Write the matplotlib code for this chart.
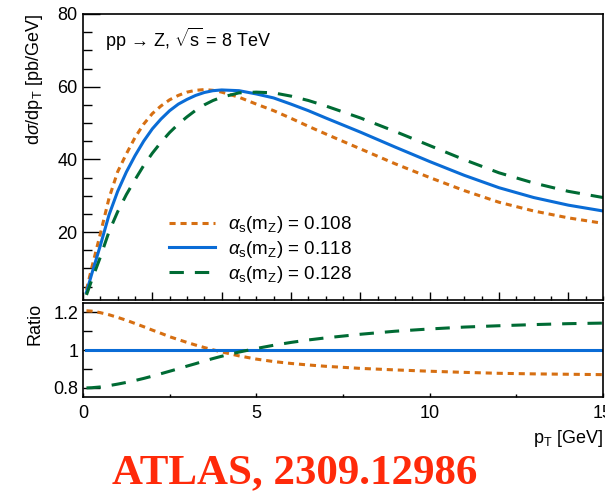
import matplotlib
matplotlib.use("Agg")
import matplotlib.pyplot as plt
from matplotlib.ticker import MultipleLocator, FixedLocator

plt.rcParams["font.family"] = ["Liberation Sans", "DejaVu Sans"]
plt.rcParams["mathtext.fontset"] = "custom"
plt.rcParams["mathtext.rm"] = "Liberation Sans"
plt.rcParams["mathtext.it"] = "Liberation Sans:italic"
plt.rcParams["mathtext.sf"] = "Liberation Sans"

# ---------- DATA ----------
pt = [0.1, 0.25, 0.5, 0.75, 1.0, 1.25, 1.5, 1.75, 2.0, 2.25, 2.5, 2.75, 3.0, 3.25,
      3.5, 3.75, 4.0, 4.5, 5.0, 5.5, 6.0, 6.5, 7.0, 8.0, 9.0, 10.0, 11.0, 12.0,
      13.0, 14.0, 15.0]

xs_108 = [4.1, 10.1, 19.5, 29.3, 36.6, 41.5, 46.0, 49.7, 52.6, 54.7, 56.4, 57.6, 58.5, 59.0,
          59.2, 59.0, 58.5, 57.1, 55.2, 53.4, 51.3, 49.1, 47.0, 42.9, 38.8, 35.0, 31.4, 28.2,
          25.8, 23.9, 22.4]
xs_118 = [3.4, 8.4, 16.3, 24.7, 31.2, 36.5, 41.0, 45.0, 48.4, 51.1, 53.4, 55.2, 56.5, 57.6,
          58.4, 58.9, 59.1, 58.9, 58.0, 56.9, 55.2, 53.4, 51.4, 47.5, 43.4, 39.4, 35.6, 32.2,
          29.5, 27.4, 25.8]
xs_128 = [2.7, 6.7, 13.1, 20.1, 25.6, 30.3, 34.4, 38.3, 41.7, 44.7, 47.4, 49.7, 51.7, 53.5,
          55.0, 56.2, 57.1, 58.3, 58.5, 58.3, 57.4, 56.2, 54.7, 51.4, 47.7, 43.8, 39.9, 36.3,
          33.5, 31.2, 29.5]

ratio_108 = [1.207, 1.205, 1.197, 1.186, 1.172, 1.157, 1.140, 1.123, 1.105, 1.088, 1.070,
             1.055, 1.040, 1.026, 1.013, 1.001, 0.990, 0.969, 0.952, 0.939, 0.929, 0.921,
             0.914, 0.903, 0.895, 0.888, 0.882, 0.877, 0.874, 0.872, 0.870]
ratio_118 = [1.0, 1.0, 1.0, 1.0, 1.0, 1.0, 1.0, 1.0, 1.0, 1.0, 1.0, 1.0, 1.0, 1.0, 1.0, 1.0,
             1.0, 1.0, 1.0, 1.0, 1.0, 1.0, 1.0, 1.0, 1.0, 1.0, 1.0, 1.0, 1.0, 1.0, 1.0]
ratio_128 = [0.800, 0.801, 0.805, 0.812, 0.820, 0.829, 0.839, 0.850, 0.862, 0.875, 0.888,
             0.901, 0.915, 0.928, 0.942, 0.955, 0.967, 0.989, 1.008, 1.025, 1.040, 1.053,
             1.064, 1.083, 1.099, 1.111, 1.121, 1.128, 1.134, 1.139, 1.142]

labels = [r"$\alpha_{\mathrm{s}}(\mathrm{m}_{\mathrm{Z}})$ = 0.108",
          r"$\alpha_{\mathrm{s}}(\mathrm{m}_{\mathrm{Z}})$ = 0.118",
          r"$\alpha_{\mathrm{s}}(\mathrm{m}_{\mathrm{Z}})$ = 0.128"]

ORANGE, BLUE, GREEN = "#d66f12", "#0a6cd6", "#006b34"
LW = 2.2
styles = [dict(color=ORANGE, lw=LW, dashes=(2.0, 1.6)),
          dict(color=BLUE, lw=LW),
          dict(color=GREEN, lw=LW, dashes=(4.7, 3.6))]

# ---------- FIGURE ----------
fig = plt.figure(figsize=(6.05, 4.94), dpi=100)
ax = fig.add_axes([83 / 605, 194 / 494, 520 / 605, 286 / 494])
rax = fig.add_axes([83 / 605, 97 / 494, 520 / 605, 94 / 494])

for ys, st, lab in zip([xs_108, xs_118, xs_128], styles, labels):
    ax.plot(pt, ys, label=lab, dash_capstyle="butt", **st)

ax.set_xlim(0, 15)
ax.set_ylim(1.3, 80)
ax.yaxis.set_major_locator(FixedLocator([20, 40, 60, 80]))
ax.yaxis.set_minor_locator(MultipleLocator(5))
ax.xaxis.set_major_locator(MultipleLocator(2))
ax.xaxis.set_minor_locator(MultipleLocator(0.5))
ax.tick_params(axis="both", which="both", direction="in", labelsize=13)
ax.tick_params(axis="y", which="major", length=12, width=1)
ax.tick_params(axis="y", which="minor", length=6.5, width=1)
ax.tick_params(axis="x", which="major", length=5.5, width=1, labelbottom=False)
ax.tick_params(axis="x", which="minor", length=3, width=1)
ax.tick_params(axis="y", pad=4)
ax.set_ylabel(r"d$\sigma$/dp$_{\mathrm{T}}$ [pb/GeV]", fontsize=13, loc="top")
ax.yaxis.set_label_coords(-0.074, 1.0)

ax.text(0.042, 0.91, "pp \u2192 Z, $\\sqrt{\\mathrm{s}}$ = 8 TeV",
        transform=ax.transAxes, fontsize=13, va="center", ha="left")

ax.legend(loc="upper left", bbox_to_anchor=(0.165, 0.30), frameon=False,
          fontsize=13.5, handlelength=2.45, handletextpad=0.7, labelspacing=0.2,
          borderpad=0, borderaxespad=0)

for ys, st in zip([ratio_108, ratio_118, ratio_128], styles):
    rax.plot(pt, ys, dash_capstyle="butt", **st)

rax.set_xlim(0, 15)
rax.set_ylim(0.752, 1.248)
rax.yaxis.set_major_locator(FixedLocator([0.8, 1.0, 1.2]))
rax.yaxis.set_minor_locator(FixedLocator([0.9, 1.1]))
rax.set_yticklabels(["0.8", "1", "1.2"])
rax.xaxis.set_major_locator(MultipleLocator(5))
rax.xaxis.set_minor_locator(MultipleLocator(2.5))
rax.tick_params(axis="both", which="both", direction="in", labelsize=13)
rax.tick_params(axis="y", which="major", length=12, width=1)
rax.tick_params(axis="y", which="minor", length=6.5, width=1)
rax.tick_params(axis="x", which="major", length=3, width=1, pad=6)
rax.tick_params(axis="x", which="minor", length=2.5, width=1)
rax.set_ylabel("Ratio", fontsize=13, loc="top")
rax.yaxis.set_label_coords(-0.076, 1.0)
rax.set_xlabel(r"p$_{\mathrm{T}}$ [GeV]", fontsize=13, loc="right")
rax.xaxis.set_label_coords(1.0, -0.33)

for a in (ax, rax):
    for sp in a.spines.values():
        sp.set_linewidth(1.2)

fig.text(295 / 605, 1 - 483 / 494, "ATLAS, 2309.12986", color="#ff2a0a",
         fontsize=31, fontweight="bold", family="Liberation Serif",
         ha="center", va="baseline")

fig.savefig("out.png", dpi=100)
